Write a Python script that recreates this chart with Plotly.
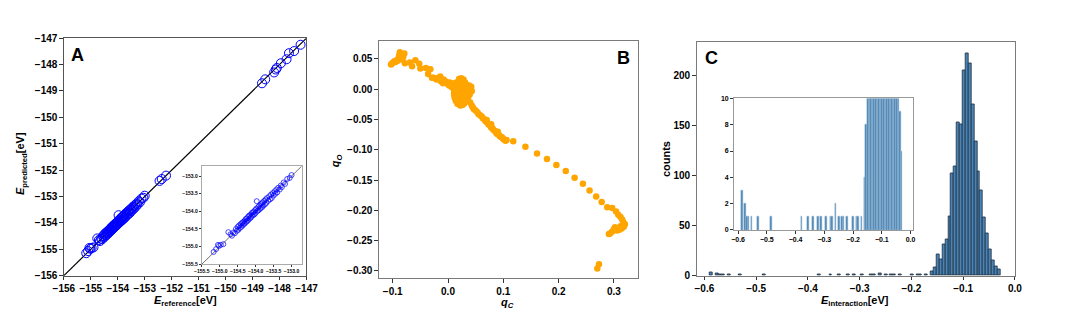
import plotly.graph_objects as go

# ---------------- Panel A data ----------------
a_ref = [-147.22, -147.46, -147.65, -147.74, -147.95, -148.10, -148.14, -148.20, -148.53, -148.65,
         -152.21, -152.37, -152.45,
         -155.17, -155.10, -155.05, -155.02, -154.97, -154.90, -154.76, -154.70, -154.66, -154.62,
         -154.58, -154.55, -154.52, -154.50, -154.48, -154.46, -154.44, -154.42, -154.40, -154.38,
         -154.36, -154.35, -154.33, -154.31, -154.30, -154.28, -154.26, -154.25, -154.23, -154.21,
         -154.20, -154.18, -154.16, -154.15, -154.13, -154.11, -154.10, -154.08, -154.06, -154.05,
         -154.03, -154.01, -154.00, -153.98, -153.97, -153.95, -153.93, -153.92, -153.90, -153.88,
         -153.86, -153.85, -153.83, -153.81, -153.80, -153.78, -153.76, -153.74, -153.72, -153.70,
         -153.68, -153.65, -153.62, -153.60, -153.57, -153.55, -153.52, -153.50, -153.47, -153.45,
         -153.42, -153.40, -153.37, -153.33, -153.30, -153.27, -153.22, -153.18, -153.12, -153.05,
         -153.00]
a_pred = [-147.25, -147.49, -147.57, -147.80, -147.95, -148.13, -148.19, -148.30, -148.56, -148.71,
          -152.21, -152.34, -152.41,
          -155.15, -155.07, -154.95, -154.98, -154.95, -154.93, -154.59, -154.65, -154.69, -154.60,
          -154.62, -154.50, -154.55, -154.44, -154.52, -154.40, -154.47, -154.36, -154.44, -154.33,
          -154.40, -154.30, -154.36, -154.27, -154.34, -154.22, -154.30, -154.20, -154.27, -154.15,
          -154.24, -154.12, -154.20, -154.10, -154.17, -154.05, -154.13, -154.03, -154.10, -154.00,
          -154.08, -153.96, -154.04, -153.92, -153.71, -153.99, -153.88, -153.97, -153.84, -153.93,
          -153.80, -153.90, -153.77, -153.87, -153.74, -153.83, -153.70, -153.80, -153.66, -153.76,
          -153.62, -153.70, -153.57, -153.66, -153.52, -153.62, -153.48, -153.55, -153.43, -153.50,
          -153.38, -153.46, -153.33, -153.38, -153.27, -153.31, -153.18, -153.22, -153.08, -153.05,
          -152.97]
a_ticks = [-156, -155, -154, -153, -152, -151, -150, -149, -148, -147]
a_inset_ticks = [-155.5, -155.0, -154.5, -154.0, -153.5, -153.0]

# ---------------- Panel B data ----------------
b_qc = [-0.103, -0.101, -0.099, -0.097, -0.095, -0.093, -0.091, -0.089, -0.087, -0.088, -0.085,
        -0.083, -0.081, -0.079, -0.078, -0.069, -0.065, -0.059, -0.052, -0.050, -0.040, -0.036,
        -0.032, -0.029, -0.026, -0.021, -0.017, -0.014, -0.013, -0.009, -0.008, -0.006, -0.003,
        0.000, -0.001, 0.002, 0.003, 0.006, 0.007, 0.009,
        0.020, 0.024, 0.028, 0.015, 0.019, 0.023, 0.027, 0.031, 0.013, 0.017, 0.021, 0.026, 0.029,
        0.034, 0.038, 0.012, 0.016, 0.020, 0.024, 0.028, 0.032, 0.036, 0.041, 0.011, 0.015, 0.019,
        0.023, 0.027, 0.031, 0.035, 0.040, 0.011, 0.015, 0.019, 0.023, 0.027, 0.031, 0.035, 0.039,
        0.012, 0.016, 0.020, 0.024, 0.028, 0.032, 0.036, 0.014, 0.018, 0.022, 0.026, 0.030, 0.034,
        0.017, 0.021, 0.025, 0.029, 0.022, 0.026, 0.043, 0.042,
        0.040, 0.043, 0.045, 0.047, 0.050, 0.053, 0.055, 0.058, 0.061, 0.063, 0.066, 0.068, 0.071,
        0.073, 0.076, 0.078, 0.080, 0.082, 0.085, 0.087, 0.089, 0.092, 0.094, 0.097, 0.099, 0.101,
        0.104, 0.106, 0.090, 0.078, 0.070,
        0.118, 0.140, 0.161, 0.179, 0.196, 0.213, 0.229, 0.244, 0.256, 0.268, 0.278, 0.288, 0.297,
        0.304, 0.308, 0.312, 0.315, 0.317, 0.320, 0.318, 0.314, 0.310, 0.306, 0.302, 0.300, 0.297,
        0.293, 0.291, 0.312, 0.270, 0.273]
b_qo = [0.041, 0.043, 0.044, 0.046, 0.045, 0.048, 0.047, 0.053, 0.061, 0.057, 0.052,
        0.049, 0.053, 0.059, 0.043, 0.044, 0.038, 0.048, 0.042, 0.034, 0.035, 0.025,
        0.033, 0.019, 0.019, 0.016, 0.019, 0.021, 0.013, 0.010, 0.016, 0.014, 0.012,
        0.010, 0.009, 0.006, 0.011, 0.004, 0.010, 0.002,
        0.017, 0.018, 0.016, 0.011, 0.012, 0.010, 0.012, 0.011, 0.006, 0.005, 0.007, 0.006, 0.005,
        0.007, 0.006, 0.001, 0.000, 0.002, 0.001, -0.001, 0.002, 0.001, 0.000, -0.004, -0.005,
        -0.003, -0.004, -0.005, -0.003, -0.004, -0.006, -0.009, -0.010, -0.008, -0.009, -0.011,
        -0.009, -0.010, -0.009, -0.014, -0.015, -0.013, -0.014, -0.015, -0.013, -0.015, -0.019,
        -0.020, -0.018, -0.019, -0.021, -0.019, -0.024, -0.025, -0.023, -0.024, -0.027, -0.026,
        -0.003, 0.004,
        -0.022, -0.027, -0.030, -0.033, -0.035, -0.038, -0.041, -0.043, -0.045, -0.048, -0.050,
        -0.053, -0.055, -0.058, -0.060, -0.063, -0.064, -0.067, -0.069, -0.072, -0.074, -0.075,
        -0.078, -0.079, -0.081, -0.083, -0.085, -0.084, -0.070, -0.058, -0.051,
        -0.086, -0.095, -0.106, -0.115, -0.125, -0.135, -0.146, -0.156, -0.167, -0.177, -0.186,
        -0.195, -0.196, -0.202, -0.207, -0.211, -0.215, -0.219, -0.223, -0.227, -0.230, -0.232,
        -0.233, -0.228, -0.231, -0.235, -0.238, -0.239, -0.226, -0.296, -0.289]
b_xticks = [-0.1, 0.0, 0.1, 0.2, 0.3]
b_yticks = [0.05, 0.00, -0.05, -0.10, -0.15, -0.20, -0.25, -0.30]

# ---------------- Panel C data (histogram, 100 bins) ----------------
c_min = -0.589
c_bin_width = 0.00561
c_tail_bins = [0, 2, 3, 4, 6, 10, 18, 37, 41, 44, 47, 49, 52, 55, 56, 58, 60, 62, 63, 65, 69, 71, 72, 74]
c_tail_counts = [3, 2, 1, 1, 1, 1, 1, 1, 1, 1, 1, 1, 1, 1, 1, 2, 1, 1, 1, 1, 1, 1, 1, 1]
c_peak_first_bin = 76
c_peak_counts = [4, 8, 21, 16, 31, 36, 59, 102, 109, 153, 151, 205, 222, 212, 171, 134, 104, 85,
                 58, 42, 26, 15, 9, 6]
c_xticks = [-0.6, -0.5, -0.4, -0.3, -0.2, -0.1, 0.0]
c_yticks = [0, 50, 100, 150, 200]
c_inset_yticks = [0, 2, 4, 6, 8, 10]

bins = c_tail_bins + [c_peak_first_bin + i for i in range(len(c_peak_counts))]
counts = c_tail_counts + c_peak_counts
centers = [c_min + (b + 0.5) * c_bin_width for b in bins]

W, H = 1068, 318
def dx(a, b):
    return [a / W, b / W]
def dy(top, bottom):
    return [1 - bottom / H, 1 - top / H]

FONT = "Liberation Sans"
SPINE = "#7a7a7a"

fig = go.Figure()

# Panel A main
fig.add_trace(go.Scatter(x=[-156, -147], y=[-156, -147], mode="lines",
                         line=dict(color="black", width=1.2), xaxis="x", yaxis="y", showlegend=False))
fig.add_trace(go.Scatter(x=a_ref, y=a_pred, mode="markers",
                         marker=dict(symbol="circle-open", size=9, color="#0000ff", line=dict(width=1)),
                         xaxis="x", yaxis="y", showlegend=False))
# Panel A inset
fig.add_trace(go.Scatter(x=[-156, -152], y=[-156, -152], mode="lines",
                         line=dict(color="#333333", width=0.7), xaxis="x2", yaxis="y2", showlegend=False))
fig.add_trace(go.Scatter(x=a_ref, y=a_pred, mode="markers",
                         marker=dict(symbol="circle-open", size=5, color="#0000ff", line=dict(width=0.7)),
                         xaxis="x2", yaxis="y2", showlegend=False))
# Panel B
fig.add_trace(go.Scatter(x=b_qc, y=b_qo, mode="markers",
                         marker=dict(size=6.5, color="#ffa500"),
                         xaxis="x3", yaxis="y3", showlegend=False))
# Panel C main
fig.add_trace(go.Bar(x=centers, y=counts, width=c_bin_width,
                     marker=dict(color="#4a84b6", line=dict(color="#1e2d3c", width=0.8)),
                     xaxis="x4", yaxis="y4", showlegend=False))
# Panel C inset
fig.add_trace(go.Bar(x=centers, y=counts, width=c_bin_width,
                     marker=dict(color="#4a84b6", line=dict(color="#9dbad3", width=0.5)),
                     xaxis="x5", yaxis="y5", showlegend=False))

def axis(domain, rng, tickvals, fmt, anchor, size=10, ticklen=3.5, color=SPINE, lw=1):
    return dict(domain=domain, range=rng, tickvals=tickvals, tickformat=fmt, anchor=anchor,
                showline=True, mirror=True, linecolor=color, linewidth=lw, showgrid=False,
                zeroline=False, ticks="outside", ticklen=ticklen, tickwidth=0.8, tickcolor="#333",
                tickfont=dict(family=FONT, size=size, color="black", weight="bold"))

fig.update_layout(
    width=W, height=H, margin=dict(l=0, r=0, t=0, b=0),
    paper_bgcolor="white", plot_bgcolor="white", bargap=0,
    xaxis=axis(dx(54, 302), [-156, -147], a_ticks, "d", "y", color="#555"),
    yaxis=axis(dy(33.3, 279.3), [-156, -147], a_ticks, "d", "x", color="#555"),
    xaxis2=axis(dx(195, 297), [-155.5, -152.72], a_inset_ticks, ".1f", "y2", size=5, ticklen=2, color="#aaa"),
    yaxis2=axis(dy(166, 267.5), [-155.5, -152.72], a_inset_ticks, ".1f", "x2", size=5, ticklen=2, color="#aaa"),
    xaxis3=axis(dx(376, 641), [-0.125, 0.344], b_xticks, ".1f", "y3"),
    yaxis3=axis(dy(36, 282), [-0.312, 0.080], b_yticks, ".2f", "x3"),
    xaxis4=axis(dx(700.7, 1026), [-0.615, 0.0], c_xticks, ".1f", "y4"),
    yaxis4=axis(dy(37.7, 279.3), [0, 233.4], c_yticks, "d", "x4"),
    xaxis5=axis(dx(739, 921.7), [-0.614, 0.008], c_xticks, ".1f", "y5", size=7, ticklen=3, color="#999"),
    yaxis5=axis(dy(95.7, 232), [0, 10], c_inset_yticks, "d", "x5", size=7, ticklen=3, color="#999"),
)

TF = dict(family=FONT, size=11, color="black")
ann = [
    dict(x=178.8 / W, y=1 - 306 / H, text="<b><i>E</i><sub>reference</sub>[eV]</b>", textangle=0),
    dict(x=11 / W, y=1 - 163 / H, text="<b><i>E</i><sub>predicted</sub>[eV]</b>", textangle=-90),
    dict(x=507 / W, y=1 - 308 / H, text="<b><i>q<sub>C</sub></i></b>", textangle=0),
    dict(x=333 / W, y=1 - 160 / H, text="<b><i>q<sub>O</sub></i></b>", textangle=-90),
    dict(x=863 / W, y=1 - 306 / H, text="<b><i>E</i><sub>interaction</sub>[eV]</b>", textangle=0),
    dict(x=669 / W, y=1 - 159 / H, text="<b>counts</b>", textangle=-90),
]
for a in ann:
    fig.add_annotation(xref="paper", yref="paper", showarrow=False, font=TF,
                       xanchor="center", yanchor="middle", **a)

LF = dict(family=FONT, size=18, color="black")
for txt, x, y in [("A", 60.5, 39), ("B", 618, 42), ("C", 708, 42)]:
    fig.add_annotation(xref="paper", yref="paper", x=x / W, y=1 - y / H, text=f"<b>{txt}</b>",
                       showarrow=False, font=LF, xanchor="left", yanchor="top", borderpad=0)

fig.write_html("out.html", config={"displayModeBar": False},
               post_script="document.body.style.margin='0';")
